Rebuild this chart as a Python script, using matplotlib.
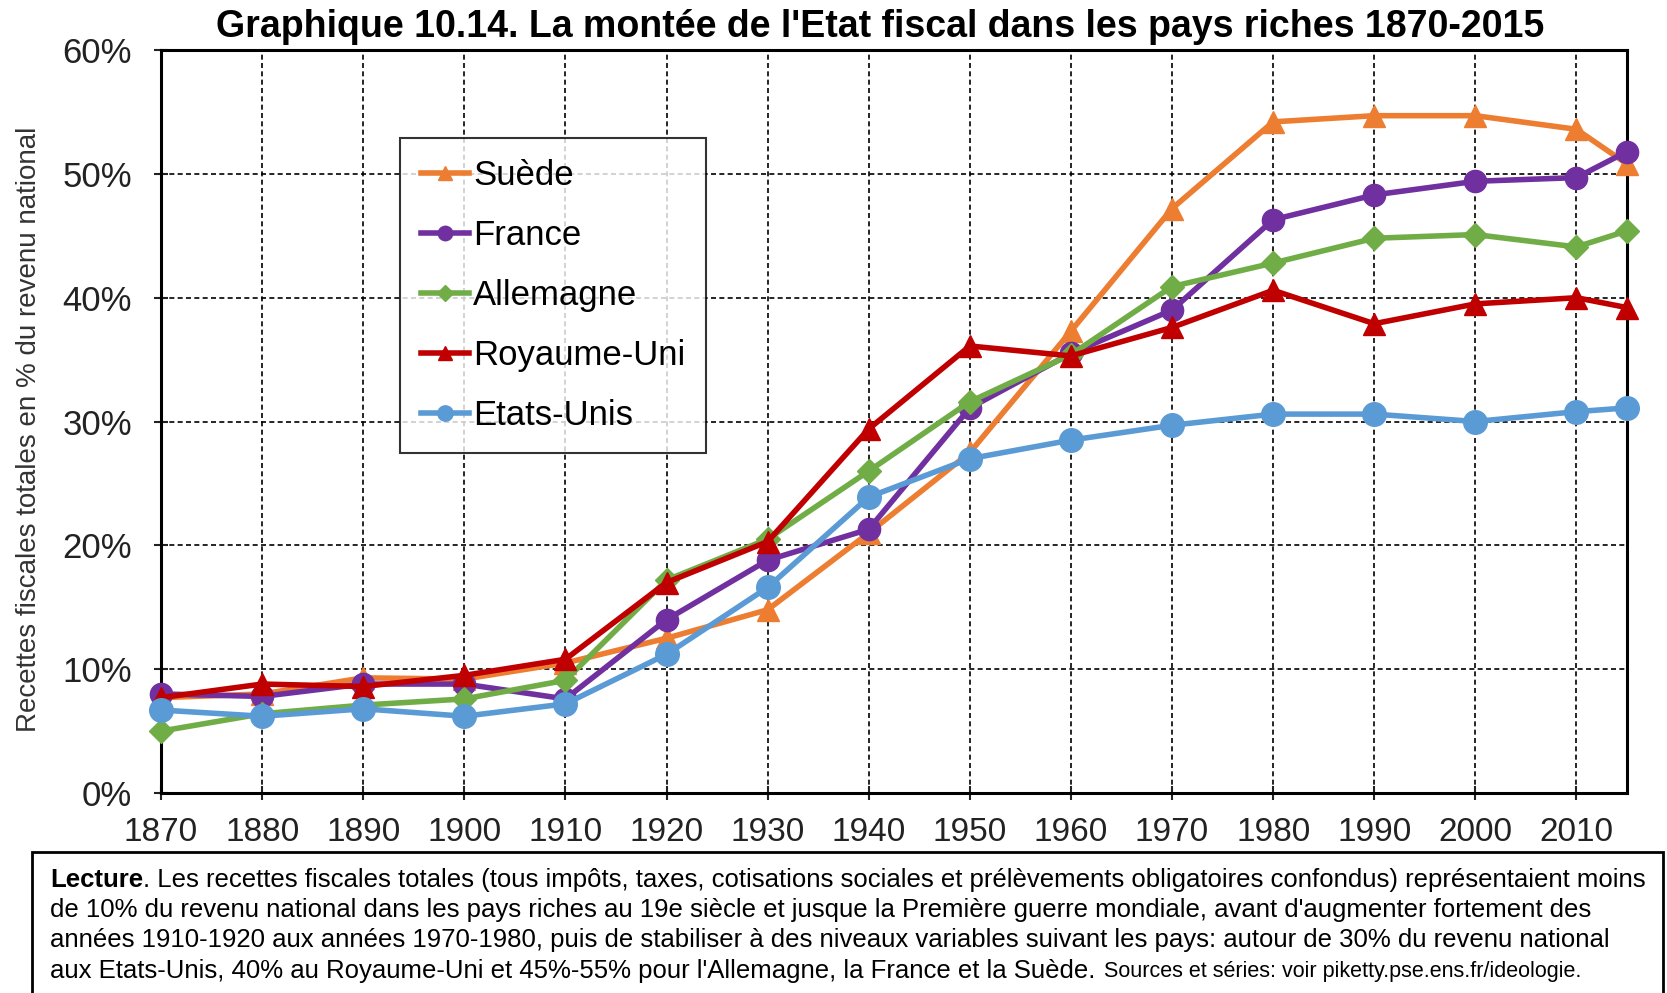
import matplotlib.pyplot as plt
from matplotlib.patches import Rectangle
from matplotlib import font_manager

# --- DATA ---
years = [1870, 1880, 1890, 1900, 1910, 1920, 1930, 1940, 1950, 1960, 1970, 1980, 1990, 2000, 2010, 2015]
suede = [7.7, 8.0, 9.3, 9.2, 10.5, 12.5, 14.8, 21.0, 27.5, 37.3, 47.2, 54.2, 54.7, 54.7, 53.6, 50.8]
france = [8.0, 7.8, 8.8, 8.8, 7.6, 14.0, 18.8, 21.3, 31.1, 35.5, 39.0, 46.3, 48.3, 49.4, 49.7, 51.8]
allemagne = [5.0, 6.4, 7.1, 7.6, 9.1, 17.2, 20.5, 26.0, 31.6, 35.4, 40.9, 42.8, 44.8, 45.1, 44.1, 45.4]
royaume_uni = [7.7, 8.8, 8.6, 9.5, 10.8, 17.0, 20.3, 29.4, 36.1, 35.3, 37.6, 40.6, 37.9, 39.5, 40.0, 39.2]
etats_unis = [6.7, 6.2, 6.8, 6.2, 7.2, 11.2, 16.6, 23.9, 27.0, 28.5, 29.7, 30.6, 30.6, 30.0, 30.8, 31.1]
x_ticks = list(range(1870, 2011, 10))
y_ticks = [0, 10, 20, 30, 40, 50, 60]

title = "Graphique 10.14. La montée de l'Etat fiscal dans les pays riches 1870-2015"
ylabel = "Recettes fiscales totales en % du revenu national"
caption = [
    "Les recettes fiscales totales (tous impôts, taxes, cotisations sociales et prélèvements obligatoires confondus) représentaient moins",
    "de 10% du revenu national dans les pays riches au 19e siècle et jusque la Première guerre mondiale, avant d'augmenter fortement des",
    "années 1910-1920 aux années 1970-1980, puis de stabiliser à des niveaux variables suivant les pays: autour de 30% du revenu national",
    "aux Etats-Unis, 40% au Royaume-Uni et 45%-55% pour l'Allemagne, la France et la Suède.",
]
sources = "Sources et séries: voir piketty.pse.ens.fr/ideologie."

names = {f.name for f in font_manager.fontManager.ttflist}
narrow = 'Liberation Sans Narrow' if 'Liberation Sans Narrow' in names else 'Liberation Sans'
plt.rcParams['font.family'] = ['Liberation Sans', 'DejaVu Sans']

fig = plt.figure(figsize=(16.67, 9.93), dpi=100)
ax = fig.add_axes([0.0966, 0.2014, 0.8794, 0.7482])

series = [
    ("Suède", suede, '#ED7D31', '^', 16),
    ("France", france, '#7030A0', 'o', 16),
    ("Allemagne", allemagne, '#70AD47', 'D', 12),
    ("Royaume-Uni", royaume_uni, '#C00000', '^', 16),
    ("Etats-Unis", etats_unis, '#5B9BD5', 'o', 17),
]
for name, vals, col, mk, ms in series:
    ax.plot(years, vals, color=col, marker=mk, markersize=ms, lw=4, label=name,
            clip_on=False, zorder=3)

ax.set_xlim(1870, 2015)
ax.set_ylim(0, 60)
ax.set_xticks(x_ticks)
ax.set_yticks(y_ticks)
ax.set_yticklabels([f"{v}%" for v in y_ticks])
ax.tick_params(direction='inout', length=10, width=1.5, labelsize=24, colors='#222222')
ax.tick_params(axis='x', pad=12)
ax.tick_params(axis='y', pad=16, labelsize=25)
ax.grid(True, color='black', linestyle=(0, (3, 2)), lw=1.2)
for s in ax.spines.values():
    s.set_linewidth(2.2)
ax.set_ylabel(ylabel, fontsize=20, color='#333333')
ax.yaxis.set_label_coords(-0.081, 0.49)

leg = ax.legend(loc='upper left', bbox_to_anchor=(0.163, 0.8816), borderaxespad=0,
                fontsize=25, frameon=True, fancybox=False, edgecolor='black',
                handlelength=1.4, handletextpad=0.1, labelspacing=0.78, markerscale=0.65,
                borderpad=0.6)
leg.get_frame().set_linewidth(1.5)

fig.text(0.528, 0.973, title, ha='center', va='center', fontsize=27, fontweight='bold',
         family=[narrow, 'DejaVu Sans'])

# caption box
fig.add_artist(Rectangle((32 / 1667, -0.01), (1663 - 32) / 1667, (993 - 852) / 993 + 0.01,
                         transform=fig.transFigure, fill=False, edgecolor='black', lw=2))

line_y = [113 / 993, 83 / 993, 53 / 993, 22 / 993]
x0 = 50 / 1667
fig.canvas.draw()
r = fig.canvas.get_renderer()
t = fig.text(x0, line_y[0], "Lecture", fontsize=18.5, fontweight='bold', va='center',
             family=[narrow, 'DejaVu Sans'])
w = t.get_window_extent(r).width / fig.bbox.width
fig.text(x0 + w, line_y[0], ". " + caption[0], fontsize=18.5, va='center', family=[narrow, 'DejaVu Sans'])
for i in range(1, 4):
    tt = fig.text(x0, line_y[i], caption[i], fontsize=18.5, va='center', family=[narrow, 'DejaVu Sans'])
w = tt.get_window_extent(r).width / fig.bbox.width
fig.text(x0 + w + 0.005, line_y[3], sources, fontsize=15.5, va='center', family=[narrow, 'DejaVu Sans'])

fig.savefig('out.png', dpi=100)
